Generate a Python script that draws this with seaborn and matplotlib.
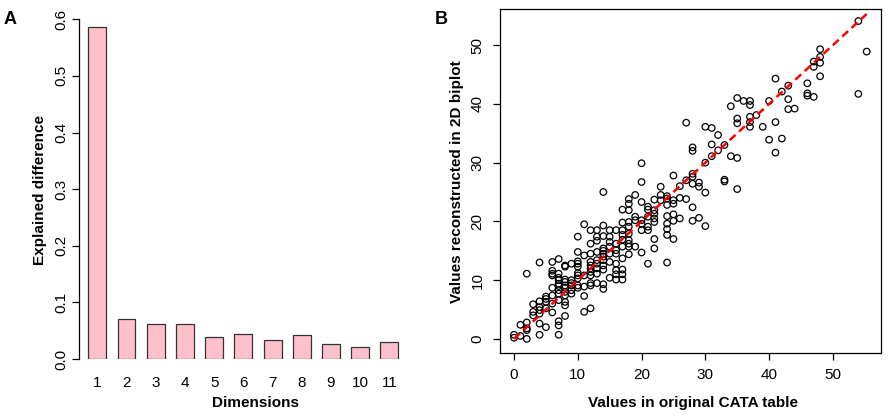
import numpy as np
import matplotlib
matplotlib.use("Agg")
import matplotlib.pyplot as plt
import seaborn as sns
import pandas as pd

plt.rcParams['font.family'] = ['Liberation Sans', 'DejaVu Sans']

# panel A: explained difference per dimension
dims = ["1", "2", "3", "4", "5", "6", "7", "8", "9", "10", "11"]
explained = [0.587, 0.071, 0.062, 0.061, 0.039, 0.044, 0.033, 0.042, 0.027, 0.021, 0.030]

# panel B: original CATA values vs values reconstructed in the 2D biplot
orig = [0, 0,
        1, 1,
        2, 2, 2, 2, 2,
        3, 3, 3,
        4, 4, 4, 4, 4, 4, 4,
        5, 5, 5, 5, 5,
        6, 6, 6, 6, 6, 6, 6, 6,
        7, 7, 7, 7, 7, 7, 7, 7, 7, 7, 7, 7,
        8, 8, 8, 8, 8, 8, 8, 8, 8, 8, 8,
        9, 9, 9, 9, 9, 9,
        10, 10, 10, 10, 10, 10, 10, 10, 10, 10,
        11, 11, 11, 11, 11, 11,
        12, 12, 12, 12, 12, 12, 12, 12, 12, 12, 12,
        13, 13, 13, 13, 13, 13, 13, 13, 13,
        14, 14, 14, 14, 14, 14, 14, 14, 14, 14, 14, 14,
        15, 15, 15, 15, 15, 15, 15,
        16, 16, 16, 16, 16, 16, 16, 16,
        17, 17, 17, 17, 17, 17, 17, 17, 17, 17,
        18, 18, 18, 18, 18, 18, 18, 18, 18, 18,
        19, 19, 19, 19,
        20, 20, 20, 20, 20, 20, 20,
        21, 21, 21, 21, 21, 21,
        22, 22, 22, 22, 22, 22, 22,
        23, 23, 23,
        24, 24, 24, 24, 24, 24, 24, 24,
        25, 25, 25, 25, 25, 25,
        26, 26, 26,
        27, 27, 27,
        28, 28, 28, 28, 28, 28, 28,
        29, 29, 29,
        30, 30, 30, 30,
        31, 31, 31,
        32, 32,
        33, 33, 33,
        34, 34,
        35, 35, 35, 35, 35,
        36,
        37, 37, 37, 37, 37,
        38, 39,
        40, 40,
        41, 41, 41,
        42, 42,
        43, 43, 43,
        44,
        46, 46, 46,
        47, 47, 47,
        48, 48, 48, 48,
        54, 54,
        55.3]
recon = [0.7, 0.2,
         2.4, 0.5,
         11.1, 2.8, 1.8, 1.5, 0.0,
         5.9, 4.6, 4.0,
         13.0, 6.4, 5.4, 4.9, 4.3, 2.6, 0.7,
         7.2, 6.8, 6.3, 5.2, 2.0,
         13.1, 11.6, 11.1, 10.8, 8.7, 7.4, 6.0, 4.5,
         13.6, 11.1, 10.4, 10.0, 9.4, 9.0, 8.3, 7.7, 6.6, 3.0, 2.3, 0.7,
         12.5, 12.3, 10.1, 9.7, 9.1, 8.7, 8.0, 7.4, 6.3, 5.7, 3.9,
         12.8, 10.0, 9.5, 9.1, 8.3, 7.7,
         17.4, 14.8, 13.2, 12.8, 12.3, 11.2, 10.8, 10.3, 9.1, 8.7,
         19.5, 14.2, 10.8, 8.9, 7.3, 4.6,
         18.5, 16.2, 14.5, 13.1, 12.5, 12.0, 11.4, 10.8, 9.5, 9.1, 5.2,
         18.5, 17.4, 16.7, 14.8, 13.4, 12.8, 12.0, 11.1, 9.5,
         25.0, 19.3, 17.5, 15.4, 15.0, 14.5, 14.0, 13.4, 12.5, 11.8, 9.3, 8.5,
         18.5, 17.4, 16.5, 15.7, 14.5, 13.1, 10.4,
         18.5, 16.2, 15.1, 14.5, 12.8, 11.7, 11.0, 10.1,
         22.0, 19.8, 18.5, 17.7, 16.9, 15.7, 13.7, 11.8, 11.0, 10.1,
         23.8, 23.0, 21.9, 19.9, 19.1, 17.9, 16.8, 16.2, 15.7, 14.4,
         24.5, 20.8, 20.2, 15.7,
         29.9, 26.7, 23.3, 20.2, 19.6, 18.5, 14.7,
         22.5, 22.0, 20.8, 19.1, 18.5, 12.8,
         23.7, 21.9, 21.3, 20.5, 19.9, 17.0, 15.4,
         25.9, 24.5, 23.6,
         24.3, 23.9, 22.8, 20.9, 19.6, 18.7, 17.7, 13.0,
         27.8, 23.6, 23.0, 21.2, 20.1, 17.0,
         26.0, 24.0, 20.5,
         36.8, 27.0, 23.8,
         32.6, 32.0, 28.1, 27.6, 26.4, 22.4, 20.1,
         26.6, 25.9, 20.6,
         36.1, 30.0, 24.9, 19.2,
         35.9, 33.1, 31.1,
         34.7, 32.1,
         33.0, 27.1, 26.8,
         39.6, 31.1,
         41.0, 37.5, 36.7, 30.8, 25.5,
         40.5,
         40.5, 39.8, 37.8, 36.9, 36.1,
         38.1, 36.1,
         40.5, 33.9,
         44.3, 36.9, 31.7,
         42.1, 34.1,
         43.1, 40.8, 39.1,
         39.2,
         43.5, 41.8, 41.4,
         47.2, 46.3, 41.2,
         49.3, 48.0, 47.0, 44.7,
         54.1, 41.7,
         48.9]

W, H = 894, 416
fig = plt.figure(figsize=(W / 100, H / 100), dpi=100)


def px_axes(left, top, right, bottom):
    return fig.add_axes([left / W, 1 - bottom / H, (right - left) / W, (bottom - top) / H])


# ---- panel A ----
axA = px_axes(79.3, 13.6, 432, 359)
dfA = pd.DataFrame({"dim": dims, "val": explained})
sns.barplot(data=dfA, x="dim", y="val", ax=axA, color="#FFC0CB", width=0.616,
            edgecolor="#333333", linewidth=0.9, saturation=1)
axA.set_xlim(-0.616, 11.46)
axA.set_ylim(0, 0.61)
for s in ["top", "right", "bottom"]:
    axA.spines[s].set_visible(False)
axA.spines["left"].set_bounds(0, 0.6)
axA.spines["left"].set_linewidth(0.9)
axA.set_yticks([0, 0.1, 0.2, 0.3, 0.4, 0.5, 0.6])
axA.set_yticklabels(["0.0", "0.1", "0.2", "0.3", "0.4", "0.5", "0.6"], rotation=90, va="center")
axA.tick_params(axis="y", length=5, width=0.9, labelsize=11, pad=3)
axA.tick_params(axis="x", length=0, labelsize=11, pad=12)
axA.set_xlabel("")
axA.set_ylabel("")

# ---- panel B ----
axB = px_axes(500, 9.3, 880.7, 352.7)
dfB = pd.DataFrame({"orig": orig, "recon": recon})
sns.scatterplot(data=dfB, x="orig", y="recon", ax=axB, color="black", s=22,
                linewidth=0.9, marker="o")
pts = axB.collections[0]
pts.set_facecolor("none")
pts.set_edgecolor("black")
top = max(orig)
axB.plot([0, top], [0, top], color="red", linestyle="--", linewidth=1.8, dashes=(3.2, 1.9))
axB.set_xlim(-2.2, 57.5)
axB.set_ylim(-2.35, 56.1)
axB.set_xticks([0, 10, 20, 30, 40, 50])
axB.set_yticks([0, 10, 20, 30, 40, 50])
axB.set_yticklabels(["0", "10", "20", "30", "40", "50"], rotation=90, va="center")
axB.tick_params(length=5, width=0.9, labelsize=11, pad=6)
for s in axB.spines.values():
    s.set_linewidth(0.9)
axB.set_xlabel("")
axB.set_ylabel("")

# labels placed in pixel positions
def ftext(x, y, s, **kw):
    fig.text(x / W, 1 - y / H, s, ha="center", va="center", **kw)


ftext(40, 190, "Explained difference", rotation=90, fontsize=11, fontweight="bold")
ftext(255.7, 403, "Dimensions", fontsize=11, fontweight="bold")
ftext(457, 181.7, "Values reconstructed in 2D biplot", rotation=90, fontsize=11, fontweight="bold")
ftext(693, 403, "Values in original CATA table", fontsize=11, fontweight="bold")
ftext(10, 19, "A", fontsize=13, fontweight="bold")
ftext(441, 19, "B", fontsize=13, fontweight="bold")

fig.savefig("out.png", dpi=100)
